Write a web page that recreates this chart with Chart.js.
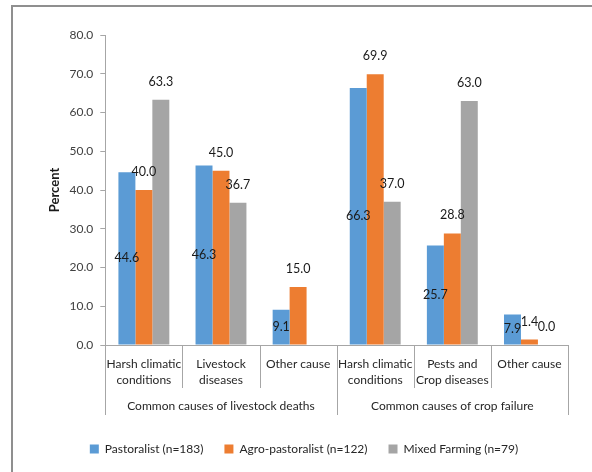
<!DOCTYPE html>
<html>
<head>
<meta charset="utf-8">
<script src="https://cdn.jsdelivr.net/npm/chart.js@4.4.1/dist/chart.umd.min.js"></script>
<style>
  html, body { margin: 0; padding: 0; background: #fff; overflow: hidden; }
  #frame { position: absolute; left: 11px; top: 5px; width: 700px; height: 600px;
           border-left: 2px solid #8f8f8f; border-top: 2px solid #8f8f8f; }
  #wrap { position: absolute; left: 0; top: 0; width: 592px; height: 472px; }
</style>
</head>
<body>
<div id="frame"></div>
<div id="wrap"><canvas id="chart"></canvas></div>
<script>
// categories, grouped under two headings
const categories = [
  ['Harsh climatic', 'conditions'], ['Livestock', 'diseases'], 'Other cause',
  ['Harsh climatic', 'conditions'], ['Pests and', 'Crop diseases'], 'Other cause'
];
const groups = ['Common causes of livestock deaths', 'Common causes of crop failure'];
const groupSizes = [3, 3];

// percent of respondents per livelihood
const pastoralist = [44.6, 46.3, 9.1, 66.3, 25.7, 7.9];
const agroPastoralist = [40.0, 45.0, 15.0, 69.9, 28.8, 1.4];
const mixedFarming = [63.3, 36.7, null, 37.0, 63.0, 0.0];

const yTicks = [0, 10, 20, 30, 40, 50, 60, 70, 80];

const FONT = 'Lato, "Open Sans", sans-serif';
const LINE = '#a6a6a6';

Chart.defaults.font.family = FONT;
Chart.defaults.font.size = 12;
Chart.defaults.color = '#404040';

// value labels: first series centred in the bar, the others above it
const barLabels = {
  id: 'barLabels',
  afterDatasetsDraw(chart) {
    const ctx = chart.ctx;
    ctx.save();
    ctx.font = '12.5px ' + FONT;
    ctx.fillStyle = '#1a1a1a';
    ctx.textAlign = 'center';
    ctx.textBaseline = 'middle';
    chart.data.datasets.forEach((ds, i) => {
      chart.getDatasetMeta(i).data.forEach((bar, j) => {
        const v = ds.data[j];
        if (v === null || v === undefined) return;
        const y = i === 0 ? (bar.y + bar.base) / 2 : bar.y - 18;
        ctx.fillText(v.toFixed(1), bar.x, y);
      });
    });
    ctx.restore();
  }
};

// separators below the axis and the group headings
const groupAxis = {
  id: 'groupAxis',
  afterDraw(chart) {
    const x = chart.scales.x;
    const ctx = chart.ctx;
    const y0 = x.top;
    const vline = (v, len) => {
      const px = Math.round(x.getPixelForValue(v)) + 0.5;
      ctx.beginPath();
      ctx.moveTo(px, y0);
      ctx.lineTo(px, y0 + len);
      ctx.stroke();
    };
    ctx.save();
    ctx.strokeStyle = LINE;
    ctx.lineWidth = 1;
    for (let i = 0; i <= categories.length; i++) vline(i - 0.5, 43);
    let start = 0;
    vline(-0.5, 70);
    ctx.font = '12px ' + FONT;
    ctx.fillStyle = '#262626';
    ctx.textAlign = 'center';
    ctx.textBaseline = 'middle';
    groups.forEach((g, k) => {
      const end = start + groupSizes[k];
      vline(end - 0.5, 70);
      const cx = (x.getPixelForValue(start - 0.5) + x.getPixelForValue(end - 0.5)) / 2;
      ctx.fillText(g, cx, y0 + 61);
      start = end;
    });
    ctx.restore();
  }
};

new Chart(document.getElementById('chart'), {
  type: 'bar',
  data: {
    labels: categories,
    datasets: [
      { label: 'Pastoralist (n=183)', data: pastoralist, backgroundColor: '#5b9bd5' },
      { label: 'Agro-pastoralist (n=122)', data: agroPastoralist, backgroundColor: '#ed7d31' },
      { label: 'Mixed Farming (n=79)', data: mixedFarming, backgroundColor: '#a5a5a5' }
    ]
  },
  options: {
    responsive: true,
    maintainAspectRatio: false,
    animation: false,
    datasets: { bar: { categoryPercentage: 0.66, barPercentage: 1.0 } },
    layout: { padding: { left: 40, right: 24, top: 35, bottom: 7 } },
    plugins: {
      tooltip: { enabled: false },
      legend: {
        position: 'bottom',
        labels: { boxWidth: 9, boxHeight: 9, padding: 21, color: '#262626', font: { size: 12 } }
      }
    },
    scales: {
      x: {
        grid: { display: false },
        border: { color: LINE },
        ticks: { padding: 3, color: '#262626', maxRotation: 0, autoSkip: false,
                 font: { size: 12, lineHeight: 1.33 } },
        afterFit(scale) { scale.height = 77; }
      },
      y: {
        min: 0,
        max: 80,
        afterBuildTicks(scale) { scale.ticks = yTicks.map(v => ({ value: v })); },
        ticks: { padding: 7, color: '#404040', callback: v => v.toFixed(1) },
        grid: { drawOnChartArea: false, tickLength: 5, color: LINE },
        border: { color: LINE },
        title: { display: true, text: 'Percent', color: '#1a1a1a', padding: { top: 7, bottom: 0 },
                 font: { size: 13, weight: 'bold' } }
      }
    }
  },
  plugins: [barLabels, groupAxis]
});
</script>
</body>
</html>
